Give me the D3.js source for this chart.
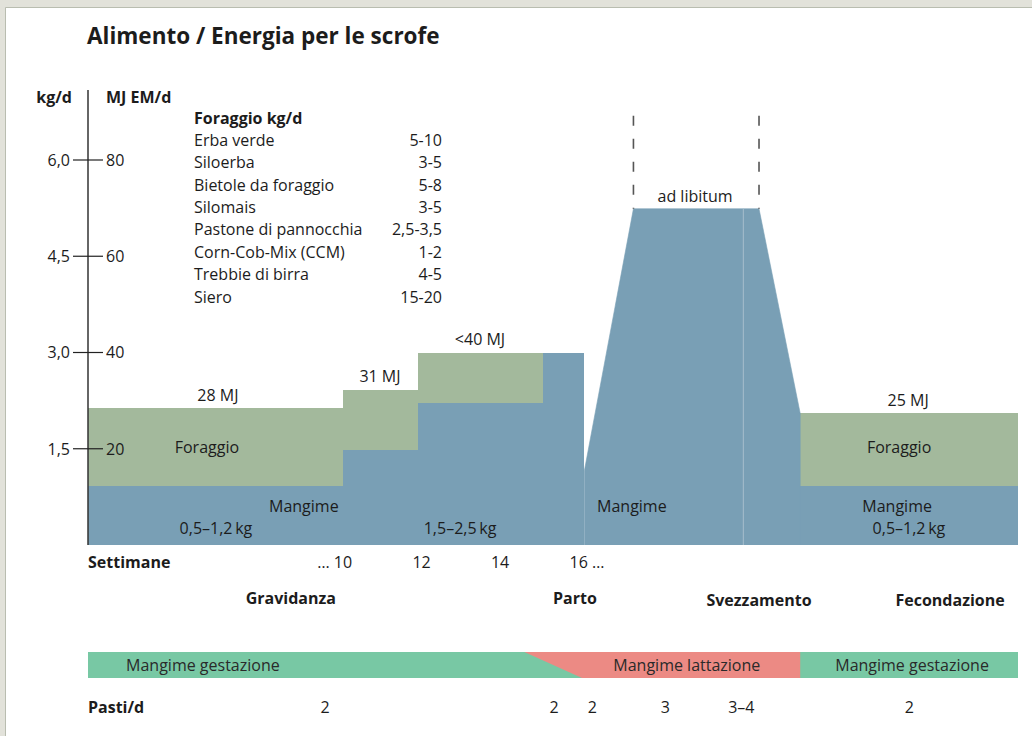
<!DOCTYPE html>
<html>
<head>
<meta charset="utf-8">
<script src="https://cdn.jsdelivr.net/npm/d3@7"></script>
<style>
  body { margin: 0; background: #fff; }
  text { font-family: "Open Sans", sans-serif; fill: #1c1c1c; }
  .b { font-weight: 700; }
</style>
</head>
<body>
<div id="chart"></div>
<script>
// --- data (x in weeks, y in kg/d) ---
const kgTicks = [1.5, 3.0, 4.5, 6.0];
const mjTicks = [20, 40, 60, 80];
const weekTicks = [10, 12, 14, 16];

const mangimeSteps = [
  {from: 3.5, to: 10, kg: 0.92},
  {from: 10, to: 11.9, kg: 1.48},
  {from: 11.9, to: 15.1, kg: 2.22},
  {from: 15.1, to: 16.15, kg: 3.0},
  {from: 21.65, to: 27.2, kg: 0.92}
];
const foraggioSteps = [
  {from: 3.5, to: 10, lo: 0.92, hi: 2.13},
  {from: 10, to: 11.9, lo: 1.48, hi: 2.42},
  {from: 11.9, to: 15.1, lo: 2.22, hi: 3.0},
  {from: 21.65, to: 27.2, lo: 0.92, hi: 2.05}
];
const lactation = [[16.15, 0], [16.15, 1.16], [17.4, 5.24], [20.6, 5.24], [21.65, 2.05], [21.65, 0]];
const libitumLines = [17.4, 20.6];
const weaningLine = 20.2;

const energyLabels = [
  {text: '28 MJ', w: 6.81, kg: 2.13},
  {text: '31 MJ', w: 10.94, kg: 2.42},
  {text: '<40 MJ', w: 13.49, kg: 3.0},
  {text: 'ad libitum', w: 18.97, kg: 5.24},
  {text: '25 MJ', w: 24.4, kg: 2.05}
];
const areaLabels = [
  {text: 'Foraggio', w: 6.53, kg: 1.53},
  {text: 'Foraggio', w: 24.17, kg: 1.53},
  {text: 'Mangime', w: 9.0, kg: 0.61},
  {text: 'Mangime', w: 17.36, kg: 0.61},
  {text: 'Mangime', w: 24.12, kg: 0.61},
  {text: '0,5–1,2\u2009kg', w: 6.76, kg: 0.26},
  {text: '1,5–2,5\u2009kg', w: 12.98, kg: 0.26},
  {text: '0,5–1,2\u2009kg', w: 24.42, kg: 0.26}
];

const foraggioTable = ['Erba verde', 'Siloerba', 'Bietole da foraggio', 'Silomais',
  'Pastone di pannocchia', 'Corn-Cob-Mix (CCM)', 'Trebbie di birra', 'Siero'];
const foraggioKg = ['5-10', '3-5', '5-8', '3-5', '2,5-3,5', '1-2', '4-5', '15-20'];

const phases = [
  {text: 'Gravidanza', w: 8.67, dy: 0},
  {text: 'Parto', w: 15.91, dy: 0},
  {text: 'Svezzamento', w: 20.6, dy: 2},
  {text: 'Fecondazione', w: 25.47, dy: 2}
];
const feedBand = {from: 3.5, to: 27.2, lactTop: [14.62, 21.65], lactBottom: [16.09, 21.65]};
const bandLabels = [
  {text: 'Mangime gestazione', w: 4.47, anchor: 'start'},
  {text: 'Mangime lattazione', w: 18.76, anchor: 'middle'},
  {text: 'Mangime gestazione', w: 24.5, anchor: 'middle'}
];
const pasti = [
  {text: '2', w: 9.54}, {text: '2', w: 15.38}, {text: '2', w: 16.35},
  {text: '3', w: 18.21}, {text: '3–4', w: 20.15}, {text: '2', w: 24.43}
];

const W = 1032, H = 736;
const blue = '#799fb5', green = '#a3b99c', bandGreen = '#78c8a4', pink = '#ec8a84';

const svg = d3.select('#chart').append('svg').attr('width', W).attr('height', H);

// frame
svg.append('rect').attr('width', W).attr('height', 7).attr('fill', '#e2e2da');
svg.append('rect').attr('width', 6).attr('height', H).attr('fill', '#e2e2da');
svg.append('line').attr('x1', 5.5).attr('x2', W).attr('y1', 7.5).attr('y2', 7.5).attr('stroke', '#b9bdb0');
svg.append('line').attr('x1', 5.5).attr('x2', 5.5).attr('y1', 7.5).attr('y2', H).attr('stroke', '#b9bdb0');

const x = d3.scaleLinear().domain([3.5, 27.2]).range([88, 1018]);
const y = d3.scaleLinear().domain([0, 6]).range([545, 160]);
const yMJ = d3.scaleLinear().domain([0, 80]).range([545, 160]);

svg.append('text').attr('class', 'b').attr('x', 87).attr('y', 44)
  .attr('font-size', 22.5).text('Alimento / Energia per le scrofe');

// areas
const g = svg.append('g');
g.selectAll('rect.m').data(mangimeSteps).enter().append('rect')
  .attr('x', d => x(d.from)).attr('width', d => x(d.to) - x(d.from))
  .attr('y', d => y(d.kg)).attr('height', d => y(0) - y(d.kg))
  .attr('fill', blue).attr('shape-rendering', 'crispEdges');
g.selectAll('rect.f').data(foraggioSteps).enter().append('rect')
  .attr('x', d => x(d.from)).attr('width', d => x(d.to) - x(d.from))
  .attr('y', d => y(d.hi)).attr('height', d => y(d.lo) - y(d.hi))
  .attr('fill', green).attr('shape-rendering', 'crispEdges');
g.append('path').datum(lactation)
  .attr('d', d3.line().x(d => x(d[0])).y(d => y(d[1])))
  .attr('fill', blue).attr('stroke', blue).attr('stroke-width', 0.6);
g.append('line').attr('x1', x(weaningLine)).attr('x2', x(weaningLine))
  .attr('y1', y(5.24)).attr('y2', y(0)).attr('stroke', '#a7bfcd').attr('stroke-width', 1);
g.selectAll('line.lib').data(libitumLines).enter().append('line')
  .attr('x1', d => x(d)).attr('x2', d => x(d))
  .attr('y1', y(6.69)).attr('y2', y(5.24))
  .attr('stroke', '#555').attr('stroke-width', 1.6).attr('stroke-dasharray', '10,13');

// y axis
const axisX = x(3.5);
svg.append('line').attr('x1', axisX).attr('x2', axisX).attr('y1', 90).attr('y2', y(0))
  .attr('stroke', '#333').attr('stroke-width', 1.5);
const ticks = svg.append('g').selectAll('g').data(kgTicks).enter().append('g')
  .attr('transform', d => `translate(0,${y(d)})`);
ticks.append('line').attr('x1', axisX - 15).attr('x2', axisX + 15).attr('stroke', '#222').attr('stroke-width', 1.2);
ticks.append('text').attr('x', axisX - 18).attr('dy', '0.36em').attr('text-anchor', 'end')
  .attr('font-size', 16).text(d => d3.format('.1f')(d).replace('.', ','));
svg.append('g').selectAll('text').data(mjTicks).enter().append('text')
  .attr('x', axisX + 18).attr('y', d => yMJ(d)).attr('dy', '0.36em')
  .attr('font-size', 16).text(d => d);
svg.append('text').attr('class', 'b').attr('x', 72).attr('y', 97).attr('dy', '0.36em')
  .attr('text-anchor', 'end').attr('font-size', 16).text('kg/d');
svg.append('text').attr('class', 'b').attr('x', 106).attr('y', 97).attr('dy', '0.36em')
  .attr('font-size', 16).text('MJ EM/d');

// foraggio table
svg.append('text').attr('class', 'b').attr('x', 194).attr('y', 118).attr('dy', '0.36em')
  .attr('font-size', 16).text('Foraggio kg/d');
svg.append('g').selectAll('text').data(foraggioTable).enter().append('text')
  .attr('x', 194).attr('y', (d, i) => 140 + i * 22.4).attr('dy', '0.36em')
  .attr('font-size', 16).text(d => d);
svg.append('g').selectAll('text').data(foraggioKg).enter().append('text')
  .attr('x', 442).attr('y', (d, i) => 140 + i * 22.4).attr('dy', '0.36em')
  .attr('text-anchor', 'end').attr('font-size', 16).text(d => d);

// labels on areas
svg.append('g').selectAll('text').data(energyLabels).enter().append('text')
  .attr('x', d => x(d.w)).attr('y', d => y(d.kg) - 13).attr('dy', '0.36em')
  .attr('text-anchor', 'middle').attr('font-size', 16).text(d => d.text);
svg.append('g').selectAll('text').data(areaLabels).enter().append('text')
  .attr('x', d => x(d.w)).attr('y', d => y(d.kg)).attr('dy', '0.36em')
  .attr('text-anchor', 'middle').attr('font-size', 16).text(d => d.text);

// weeks
svg.append('text').attr('class', 'b').attr('x', 88).attr('y', 562).attr('dy', '0.36em')
  .attr('font-size', 16).text('Settimane');
svg.append('g').selectAll('text').data(weekTicks).enter().append('text')
  .attr('x', d => x(d)).attr('y', 562).attr('dy', '0.36em').attr('font-size', 16)
  .attr('text-anchor', 'middle')
  .text(d => d)
  .each(function(d, i) {
    if (i === 0) d3.select(this).attr('text-anchor', 'end').attr('x', x(d) + 9).text('… ' + d);
    if (i === weekTicks.length - 1) d3.select(this).attr('text-anchor', 'start').attr('x', x(d) - 9).text(d + ' …');
  });

svg.append('g').selectAll('text').data(phases).enter().append('text').attr('class', 'b')
  .attr('x', d => x(d.w)).attr('y', d => 598 + d.dy).attr('dy', '0.36em')
  .attr('text-anchor', 'middle').attr('font-size', 16).text(d => d.text);

// feed band
const bandTop = 652, bandBottom = 678;
svg.append('rect').attr('x', x(feedBand.from)).attr('width', x(feedBand.to) - x(feedBand.from))
  .attr('y', bandTop).attr('height', bandBottom - bandTop).attr('fill', bandGreen);
svg.append('path')
  .attr('d', d3.line()([
    [x(feedBand.lactTop[0]), bandTop], [x(feedBand.lactTop[1]), bandTop],
    [x(feedBand.lactBottom[1]), bandBottom], [x(feedBand.lactBottom[0]), bandBottom]
  ]) + 'Z')
  .attr('fill', pink);
svg.append('g').selectAll('text').data(bandLabels).enter().append('text')
  .attr('x', d => x(d.w)).attr('y', 665).attr('dy', '0.36em')
  .attr('text-anchor', d => d.anchor).attr('font-size', 16).style('fill', '#2a2a2a').text(d => d.text);

// meals
svg.append('text').attr('class', 'b').attr('x', 88).attr('y', 707).attr('dy', '0.36em')
  .attr('font-size', 16).text('Pasti/d');
svg.append('g').selectAll('text').data(pasti).enter().append('text')
  .attr('x', d => x(d.w)).attr('y', 707).attr('dy', '0.36em')
  .attr('text-anchor', 'middle').attr('font-size', 16).text(d => d.text);
</script>
</body>
</html>
